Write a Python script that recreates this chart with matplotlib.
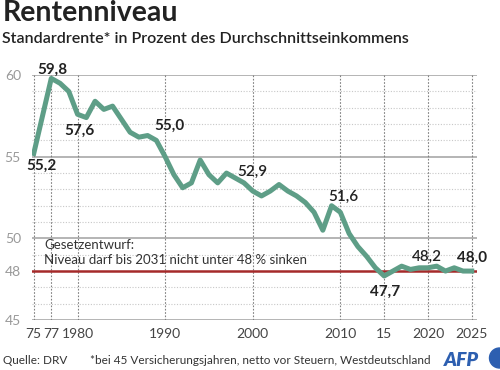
import numpy as np
import matplotlib
matplotlib.use("Agg")
import matplotlib.pyplot as plt
from matplotlib.patches import Ellipse

# Daten
jahre = [1975, 1977, 1978, 1979, 1980, 1981, 1982, 1983, 1984, 1985, 1986, 1987,
         1988, 1989, 1990, 1991, 1992, 1993, 1994, 1995, 1996, 1997, 1998, 1999,
         2000, 2001, 2002, 2003, 2004, 2005, 2006, 2007, 2008, 2009, 2010, 2011,
         2012, 2013, 2014, 2015, 2016, 2017, 2018, 2019, 2020, 2021, 2022, 2023,
         2024, 2025]
niveau = [55.2, 59.8, 59.5, 59.0, 57.6, 57.4, 58.4, 57.9, 58.1, 57.3, 56.5, 56.2,
          56.3, 56.0, 55.0, 53.9, 53.1, 53.4, 54.8, 53.9, 53.4, 54.0, 53.7, 53.4,
          52.9, 52.6, 52.9, 53.3, 52.9, 52.6, 52.2, 51.6, 50.5, 52.0, 51.6, 50.3,
          49.5, 48.9, 48.2, 47.7, 48.0, 48.3, 48.1, 48.2, 48.2, 48.3, 48.0, 48.2,
          48.0, 48.0]

xticks = [1975, 1977, 1980, 1990, 2000, 2010, 2015, 2020, 2025]
xlabels = ["75", "77", "1980", "1990", "2000", "2010", "15", "2020", "2025"]
yticks = [45, 48, 50, 55, 60]

# Beschriftungen: (Jahr, Text, dx px, dy px, fett)
labels = [
    (1977, "59,8", 1, 9, True),
    (1975, "55,2", 8, -12, True),
    (1980, "57,6", 2, -16, True),
    (1990, "55,0", 4, 31, True),
    (2000, "52,9", 0, 19, False),
    (2010, "51,6", 3, 15, False),
    (2020, "48,2", -1, 11, False),
    (2025, "48,0", 0, 13, True),
    (2015, "47,7", 1, -16, True),
]

fam = ["Lato", "DejaVu Sans"]
plt.rcParams["font.family"] = fam

fig = plt.figure(figsize=(5, 3.7), dpi=100)
ax = fig.add_axes([0.064, 0.135, 0.89, 0.662])

ax.set_xlim(1974.8, 2025.6)
ax.set_ylim(45, 60)

# Gitter
for y in range(46, 60):
    if y not in (48, 50, 55):
        ax.axhline(y, color="#c8c8c8", lw=0.8, ls=(0, (1, 1.5)), zorder=1)
for y in (45, 50, 55, 60):
    ax.axhline(y, color="#a8a8a8", lw=1.2, zorder=1)
for x in xticks:
    ax.axvline(x, color="#808080", lw=0.8, ls=(0, (1.5, 1.5)), zorder=1)

ax.axhline(48, color="#a52a2a", lw=1.8, zorder=2)
ax.plot(jahre, niveau, color="#5e9e87", lw=3.6, solid_joinstyle="round", zorder=3)

for j, t, dx, dy, fett in labels:
    v = niveau[jahre.index(j)]
    ax.annotate(t, (j, v), xytext=(dx * 0.72, dy * 0.72), textcoords="offset points",
                ha="center", va="center", fontsize=11,
                fontweight="bold" if fett else "semibold", color="#222222", zorder=4)

ax.text(1976.2, 49.6, "Gesetzentwurf:", fontsize=9.5, color="#333333", va="center")
ax.text(1976.2, 48.65, "Niveau darf bis 2031 nicht unter 48 % sinken", fontsize=9.5,
        color="#333333", va="center")

ax.set_xticks(xticks)
ax.set_xticklabels(xlabels, fontsize=10, color="#444444")
ax.set_yticks(yticks)
ax.set_yticklabels([str(y) for y in yticks], fontsize=10, color="#999999")
ax.tick_params(axis="both", length=0, pad=6)
ax.tick_params(axis="y", pad=8)
for s in ax.spines.values():
    s.set_visible(False)

# Titel
fig.text(0.006, 1 - 21 / 370, "Rentenniveau", fontsize=20.5, fontweight="bold",
         color="#222222", va="baseline")
fig.text(0.004, 1 - 43 / 370, "Standardrente* in Prozent des Durchschnittseinkommens",
         fontsize=11.5, fontweight="semibold", color="#222222", va="baseline")

# Fusszeile
fig.text(0.006, 1 - 364 / 370, "Quelle: DRV", fontsize=8.5, color="#333333", va="baseline")
fig.text(0.18, 1 - 364 / 370, "*bei 45 Versicherungsjahren, netto vor Steuern, Westdeutschland",
         fontsize=8.5, color="#333333", va="baseline")
fig.text(0.888, 1 - 366 / 370, "AFP", fontsize=14, fontweight="heavy", style="italic",
         color="#2d5fb0", va="baseline")
fig.patches.append(Ellipse((0.999, 1 - 358 / 370), 0.04, 0.054, color="#2d5fb0",
                           transform=fig.transFigure, figure=fig))

fig.savefig("out.png", dpi=100)
